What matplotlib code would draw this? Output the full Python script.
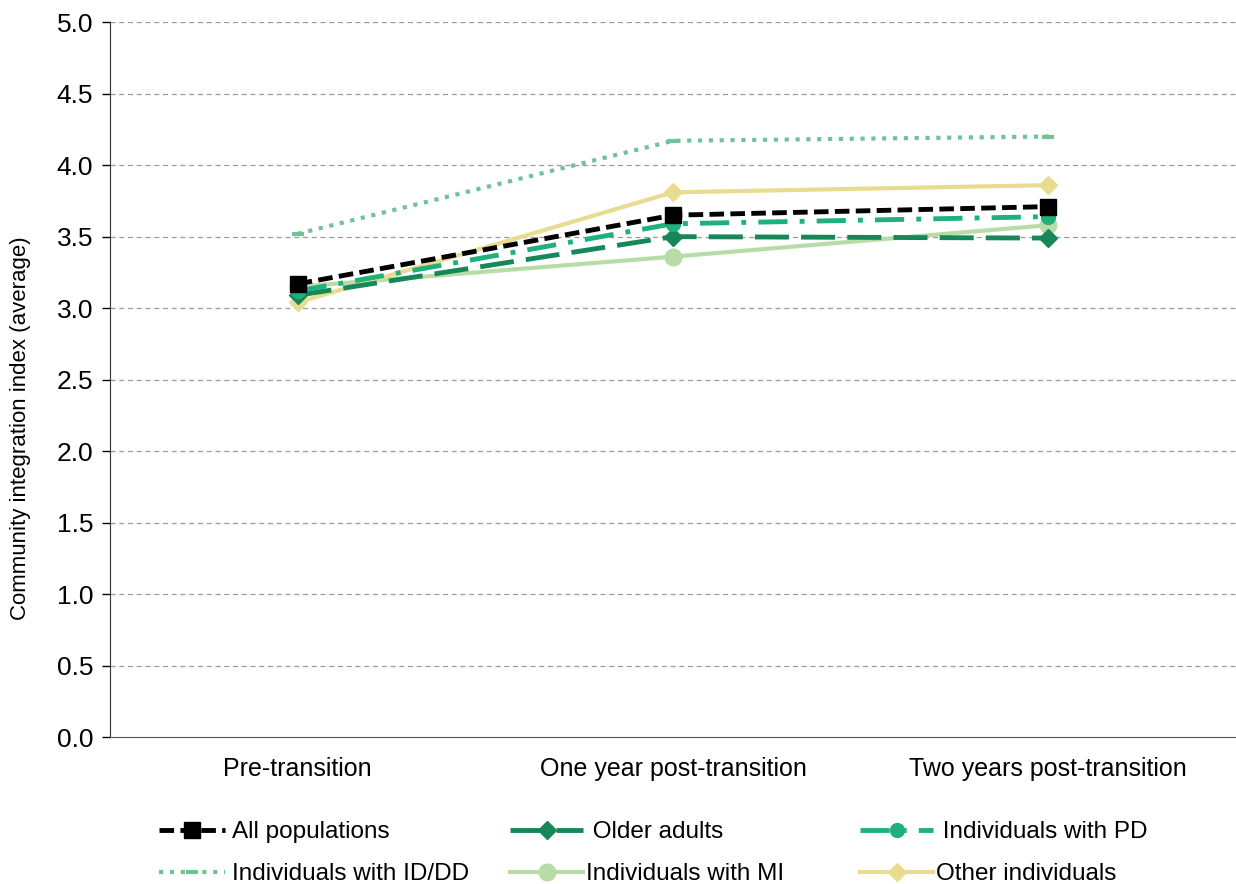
import matplotlib
matplotlib.use("Agg")
import matplotlib.pyplot as plt

plt.rcParams['font.family'] = ['Liberation Sans', 'DejaVu Sans']

categories = ["Pre-transition", "One year post-transition", "Two years post-transition"]
all_pop = [3.17, 3.65, 3.71]
older = [3.09, 3.50, 3.49]
pd_vals = [3.12, 3.59, 3.64]
iddd = [3.52, 4.17, 4.20]
mi = [3.15, 3.36, 3.58]
other = [3.04, 3.81, 3.86]
yticks = [0.0, 0.5, 1.0, 1.5, 2.0, 2.5, 3.0, 3.5, 4.0, 4.5, 5.0]

fig = plt.figure(figsize=(12.36, 8.84), dpi=100)
ax = fig.add_axes([0.089, 0.166, 0.911, 0.809])
x = [0.5, 1.5, 2.5]

h_all, = ax.plot(x, all_pop, color='black', lw=3.5, ls=(0, (3, 1.3)), marker='s', ms=12, zorder=6, label='All populations')
h_old, = ax.plot(x, older, color='#17875a', lw=3.5, ls=(0, (7, 2.5)), marker='D', ms=9, zorder=4, label=' Older adults')
h_pd, = ax.plot(x, pd_vals, color='#20b07c', lw=3.5, ls=(0, (6, 2.5, 1, 2.5)), marker='o', ms=10, zorder=5, label=' Individuals with PD')
h_id, = ax.plot(x, iddd, color='#6fc396', lw=3, ls=(0, (1, 1.6)), marker='_', ms=8, mew=3, zorder=3, label='Individuals with ID/DD')
h_mi, = ax.plot(x, mi, color='#b8dca8', lw=3, ls='-', marker='o', ms=12, zorder=3, label='Individuals with MI')
h_ot, = ax.plot(x, other, color='#e8dc90', lw=3, ls='-', marker='D', ms=9, zorder=3, label='Other individuals')

ax.set_xlim(0, 3)
ax.set_ylim(0, 5)
ax.set_xticks(x)
ax.set_xticklabels(categories, fontsize=18)
ax.set_yticks(yticks)
ax.set_yticklabels([f"{v:.1f}" for v in yticks], fontsize=19)
ax.tick_params(axis='x', length=0, pad=14)
ax.tick_params(axis='y', length=6, width=1, direction='out', pad=6)
ax.set_ylabel("Community integration index (average)", fontsize=16)
ax.yaxis.set_label_coords(-0.070, 0.432)
for yv in yticks[1:]:
    ax.axhline(yv, color='#9a9a9a', lw=0.9, ls=(0, (4, 3)), zorder=1)
for s in ['top', 'right']:
    ax.spines[s].set_visible(False)
ax.spines['left'].set_color('#333333')
ax.spines['bottom'].set_color('#555555')

cols = [([h_all, h_id], 0.129, 2.7, 0.3), ([h_old, h_mi], 0.413, 3.0, 0.1), ([h_pd, h_ot], 0.696, 3.0, 0.1)]
for hs, xl, hl, tp in cols:
    leg = fig.legend(hs, [h.get_label() for h in hs], loc='upper left', ncol=1,
                     bbox_to_anchor=(xl, 0.071), frameon=False, fontsize=17.5,
                     handlelength=hl, labelspacing=0.83, handletextpad=tp,
                     borderpad=0, borderaxespad=0)

fig.savefig("out.png", dpi=100)
